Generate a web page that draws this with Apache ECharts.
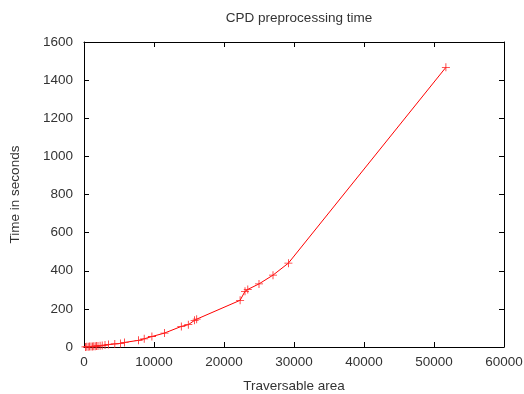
<!DOCTYPE html>
<html><head><meta charset="utf-8">
<script src="https://cdn.jsdelivr.net/npm/echarts@6/dist/echarts.min.js"></script>
<style>html,body{margin:0;padding:0;background:#fff}#c{width:524px;height:394px}</style>
</head><body><div id="c"></div>
<script>
const areas = [200,400,600,800,1000,1200,1400,1600,1800,2000,2300,2600,3000,3500,4400,5200,5800,7800,8600,9700,11500,13900,14900,15800,16100,22300,23000,23400,25000,27000,29200,51700];
const times = [0.5,1,1.5,2,2.5,3,3.5,4,5,5.5,6.5,8,10,13,16,19,24,35,43,55,73,108,117,140,146,245,292,302,331,377,440,1467];
const xTicks = [0,10000,20000,30000,40000,50000,60000];
const yTicks = [0,200,400,600,800,1000,1200,1400,1600];
const title = 'CPD preprocessing time';
const xName = 'Traversable area';
const yName = 'Time in seconds';

const font = 'Liberation Sans';
const fs = 13.5;
const txt = '#333';
const data = areas.map((a,i)=>[a,times[i]]);
const chart = echarts.init(document.getElementById('c'));
const fmt = v => String(v);
const xBase = {type:'value',min:xTicks[0],max:xTicks[xTicks.length-1],interval:xTicks[1]-xTicks[0],
  splitLine:{show:false},axisLine:{show:true,onZero:false,lineStyle:{color:'#000',width:1}},
  axisTick:{inside:true,length:5,lineStyle:{color:'#000'}}};
const yBase = {type:'value',min:yTicks[0],max:yTicks[yTicks.length-1],interval:yTicks[1]-yTicks[0],
  splitLine:{show:false},axisLine:{show:true,onZero:false,lineStyle:{color:'#000',width:1}},
  axisTick:{inside:true,length:5,lineStyle:{color:'#000'}}};
chart.setOption({
  animation:false,
  title:{text:title,left:294,top:6,textAlign:'center',textStyle:{fontFamily:font,fontSize:fs,fontWeight:'normal',color:txt}},
  grid:{left:84,right:20,top:42,bottom:47,containLabel:false,outerBoundsMode:'none'},
  xAxis:[
    Object.assign({},xBase,{position:'bottom',name:xName,nameLocation:'middle',nameGap:32,
      nameTextStyle:{fontFamily:font,fontSize:fs,color:txt},
      axisLabel:{fontFamily:font,fontSize:fs,color:txt,margin:8,formatter:fmt}}),
    Object.assign({},xBase,{position:'top',axisLabel:{show:false}})
  ],
  yAxis:[
    Object.assign({},yBase,{position:'left',name:yName,nameLocation:'middle',nameGap:62,nameRotate:90,
      nameTextStyle:{fontFamily:font,fontSize:fs,color:txt},
      axisLabel:{fontFamily:font,fontSize:fs,color:txt,margin:11,formatter:fmt}}),
    Object.assign({},yBase,{position:'right',axisLabel:{show:false}})
  ],
  series:[{type:'line',data:data,xAxisIndex:0,yAxisIndex:0,
    lineStyle:{color:'#ff0000',width:1},
    symbol:'path://M0,4.5h10v1h-10z M4.5,0h1v10h-1z',symbolSize:8,
    itemStyle:{color:'#ff2020'},showSymbol:true}]
});
</script></body></html>
